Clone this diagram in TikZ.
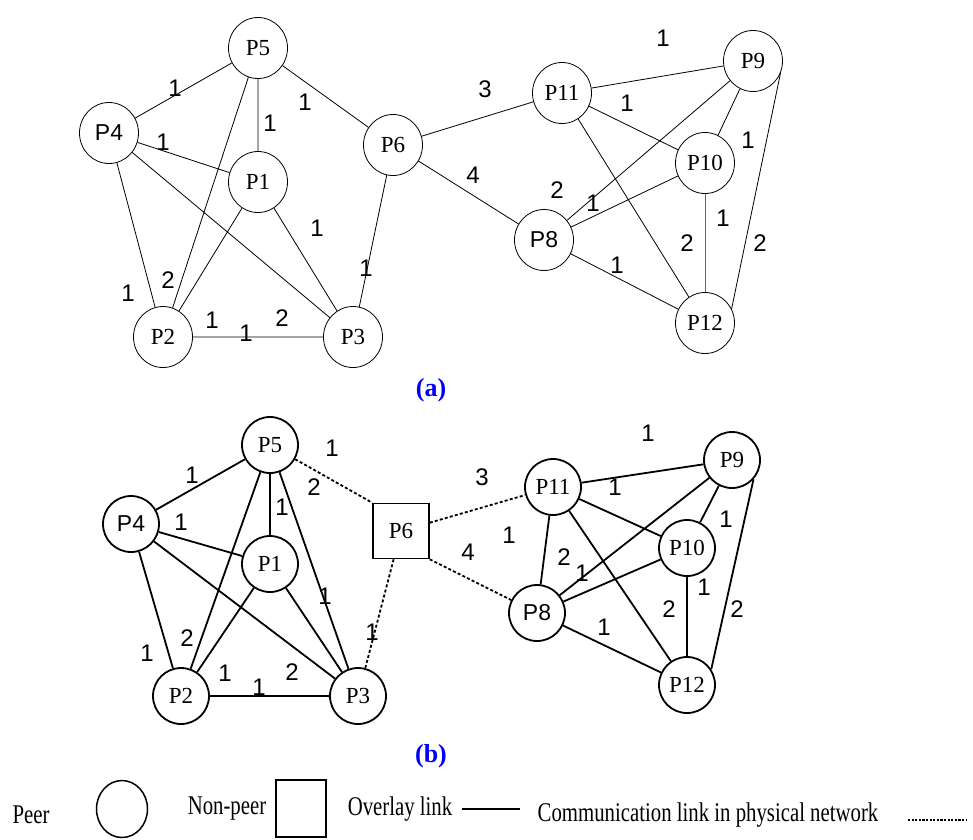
\documentclass[tikz,border=0pt]{standalone}
\usepackage{fontspec}
\setmainfont{Liberation Serif}
\newfontfamily\arialfont{Liberation Sans}
\newfontfamily\narrowfont[FakeStretch=0.77]{Liberation Serif}
\usetikzlibrary{shapes.geometric}

\tikzset{
  peer/.style={ellipse, draw, line width=0.8pt, minimum width=59pt, minimum height=61pt,
    inner sep=0pt, font=\fontsize{23}{23}\selectfont},
  peerb/.style={peer, line width=1.8pt, minimum width=56pt, minimum height=56pt},
  nonpeer/.style={rectangle, draw, line width=1.6pt, minimum width=56pt, minimum height=55pt,
    inner sep=0pt, font=\fontsize{23}{23}\selectfont},
  wt/.style={font=\arialfont\fontsize{24}{24}\selectfont, inner sep=0pt},
  olink/.style={line width=0.8pt},
  olinkb/.style={line width=1.8pt},
  plink/.style={line width=1.8pt, dash pattern=on 3pt off 2.2pt},
  panel/.style={text=blue, font=\bfseries\fontsize{26}{26}\selectfont, inner sep=0pt},
  legtext/.style={font=\narrowfont\fontsize{27}{27}\selectfont, inner sep=0pt},
}

\begin{document}
\begin{tikzpicture}[x=1pt, y=-1pt]
  \useasboundingbox (0,0) rectangle (973,839);

  % (a) overlay network
  \node[peer] (a5) at (258,48) {P5};
  \node[peer] (a4) at (109,133) {\arialfont P4};
  \node[peer] (a1) at (258,182) {P1};
  \node[peer] (a6) at (393,145) {P6};
  \node[peer] (a2) at (163,337) {P2};
  \node[peer] (a3) at (353,337) {P3};
  \node[peer] (a11) at (562,93) {P11};
  \node[peer] (a9) at (753,61) {P9};
  \node[peer] (a10) at (705,163) {P10};
  \node[peer] (a8) at (544,240) {\arialfont P8};
  \node[peer] (a12) at (705,323) {P12};

  \draw[olink] (a5) -- (a4) (a5) -- (a1) (a5) -- (a6) (a5) -- (a2)
    (a4) -- (a1) (a4) -- (a2) (a4) -- (a3) (a1) -- (a2) (a1) -- (a3)
    (a2) -- (a3) (a6) -- (a3) (a6) -- (a11) (a6) -- (a8);
  \draw[olink] (a11) -- (a9) (a11) -- (a10) (a11) -- (a12) (a9) -- (a8)
    (a9) -- (a10) (a9.-24) -- (a12.28) (a10) -- (a8) (a8) -- (a12);
  \draw[olink, black!60] (a10) -- (a12);

  \foreach \x/\y/\w [count=\i] in {175/88/1, 305/102/1, 270/123/1, 163/142/1,
      317/228/1, 366/268/1, 168/280/2, 128/293/1, 212/320/1, 246/333/1, 282/318/2,
      663/38/1, 485/89/3, 627/103/1, 748/140/1, 473/175/4, 557/190/2, 593/203/1,
      723/218/1, 687/243/2, 760/243/2, 617/265/1}
    \node[wt] (wa\i) at (\x,\y) {\w};

  \node[panel] (capa) at (431,390) {(a)};

  % (b) with non-peer P6
  \node[peerb] (b5) at (270,445) {P5};
  \node[peerb] (b4) at (131,524) {\arialfont P4};
  \node[peerb] (b1) at (270,564) {P1};
  \node[nonpeer] (b6) at (401,531) {P6};
  \node[peerb] (b2) at (181,696) {P2};
  \node[peerb] (b3) at (358,696) {P3};
  \node[peerb] (b11) at (553,487) {P11};
  \node[peerb] (b9) at (732,460) {P9};
  \node[peerb] (b10) at (687,548) {P10};
  \node[peerb] (b8) at (537,613) {\arialfont P8};
  \node[peerb] (b12) at (687,685) {P12};

  \draw[olinkb] (b5) -- (b4) (b5) -- (b1) (b5) -- (b2) (b5) -- (b3)
    (b4) -- (b1) (b4) -- (b2) (b4) -- (b3) (b1) -- (b2) (b1) -- (b3) (b2) -- (b3);
  \draw[olinkb] (b11) -- (b9) (b11) -- (b10) (b11) -- (b12) (b11) -- (b8)
    (b9) -- (b8) (b9) -- (b10) (b9.-42) -- (b12.33) (b10) -- (b8) (b10) -- (b12) (b8) -- (b12);
  \draw[plink] (b5) -- (b6.north west) (b6) -- (b3) (b6) -- (b11) (b6.south east) -- (b8);

  \foreach \x/\y/\w [count=\i] in {192/475/1, 332/448/1, 314/487/2, 282/507/1,
      181/522/1, 325/596/1, 372/632/1, 187/638/2, 147/653/1, 225/673/1, 259/687/1,
      292/672/2, 648/433/1, 482/477/3, 615/487/1, 509/535/1, 468/552/4, 564/557/2,
      582/573/1, 726/519/1, 704/587/1, 669/609/2, 737/609/2, 604/627/1}
    \node[wt] (wb\i) at (\x,\y) {\w};

  \node[panel] (capb) at (431,756) {(b)};

  % legend
  \node[legtext] (lpeer) at (31,815) {Peer};
  \node[ellipse, draw, line width=1.5pt, minimum width=51pt, minimum height=57pt] (lell) at (122,809) {};
  \node[legtext] (lnon) at (227,809) {Non-peer};
  \node[draw, line width=1.5pt, minimum width=50pt, minimum height=57pt] (lsq) at (301,808.5) {};
  \node[legtext] (lover) at (400,809) {Overlay link};
  \coordinate (lo1) at (462,809);
  \coordinate (lo2) at (520,809);
  \draw[olinkb] (lo1) -- (lo2);
  \node[legtext] (lcomm) at (708,815) {Communication link in physical network};
  \coordinate (lp1) at (908,820);
  \coordinate (lp2) at (967,820);
  \draw[line width=2.8pt, dash pattern=on 2.2pt off 1.4pt] (lp1) -- (lp2);
\end{tikzpicture}
\end{document}
